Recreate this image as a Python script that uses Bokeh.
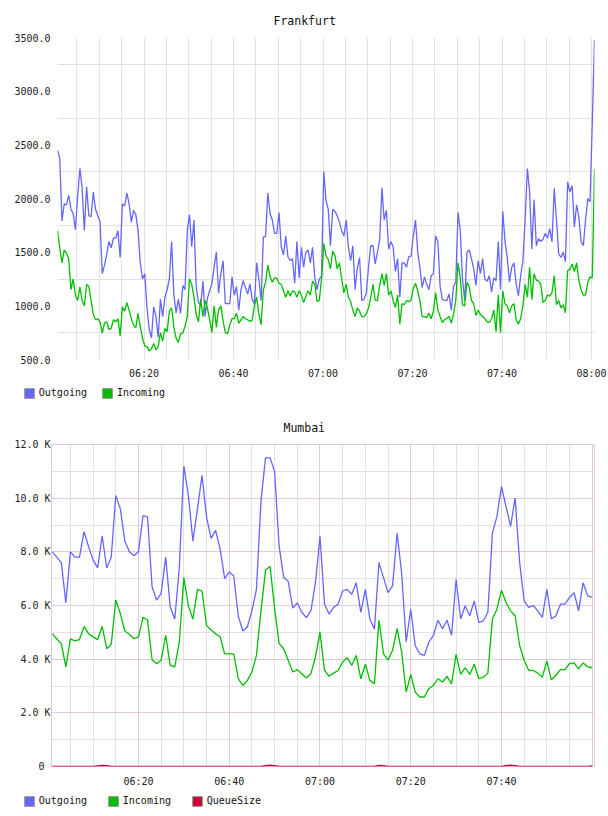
import pandas as pd
from bokeh.embed import file_html
from bokeh.layouts import column
from bokeh.models import (DatetimeTickFormatter, FixedTicker, Grid, Legend,
                          LegendItem, PrintfTickFormatter, Range1d)
from bokeh.plotting import figure
from bokeh.resources import INLINE

DAY = "2024-03-12"
FONT = "DejaVu Sans Mono"
BLUE = "#6666ff"
GREEN = "#00bf00"
RED = "#cc0033"
GRID = "#e2e2e2"
GRID_MAJOR = "#e3c8e3"

# ---- Frankfurt: 30-second samples from 06:00:40 ----
fra_outgoing = [
    2450, 2380, 1790, 1950, 1940, 2030, 1900, 1860, 1710, 2020,
    2280, 2100, 1700, 2110, 1840, 1830, 2060, 1900, 1840, 1785,
    1300, 1380, 1480, 1600, 1540, 1630, 1630, 1700, 1450, 1950,
    1930, 2050, 1950, 1780, 1890, 1850, 1700, 1400, 1250, 1300,
    980, 780, 700, 990, 900, 705, 1060, 900, 1080, 1150,
    1250, 1600, 1100, 935, 1060, 930, 1190, 1150, 1700, 1850,
    1550, 1800, 1170, 1030, 1005, 1230, 900, 1070, 1140, 1205,
    1360, 1500, 1120, 1300, 1420, 1020, 1020, 1020, 1270, 1100,
    1180, 960, 1150, 1235, 1170, 1110, 1205, 1060, 1020, 1400,
    1250, 1050, 1640, 1650, 2050, 1860, 1800, 1675, 1675, 1870,
    1550, 1475, 1650, 1455, 1420, 1440, 1210, 1600, 1260, 1545,
    1360, 1500, 1520, 1400, 1545, 1260, 1150, 1250, 1280, 2250,
    1980, 1900, 1560, 1900, 1880, 1840, 1780, 1700, 1650, 1800,
    1550, 1420, 1560, 1150, 1350, 1450, 1050, 1060, 1120, 1360,
    1560, 1560, 1390, 1500, 1620, 2100, 1800, 1890, 1530, 1600,
    1550, 1320, 1440, 1080, 1400, 1400, 1360, 1460, 1460, 1650,
    1800, 1500, 1350, 1170, 1270, 1200, 1150, 1280, 1300, 1650,
    1600, 1180, 1060, 1050, 1050, 1110, 960, 1180, 1220, 1870,
    1700, 1250, 1050, 1500, 1520, 1440, 1350, 1190, 1420, 1300,
    1440, 1250, 1230, 1280, 1130, 1260, 1235, 1600, 1150, 1880,
    1600, 1450, 1220, 1360, 1400, 1200, 1095, 1280, 1420, 1800,
    2280, 2060, 1530, 1990, 1560, 1625, 1600, 1620, 1675, 1630,
    1720, 1595, 2095, 1800, 1485, 1450, 1500, 1410, 2155, 2060,
    2120, 1735, 1940, 1830, 1600, 1560, 1800, 2000, 1970, 2700,
    3480,
]
fra_incoming = [
    1700, 1540, 1400, 1520, 1490, 1440, 1150, 1250, 1100, 1050,
    1175, 1050, 1000, 1200, 1180, 1050, 920, 870, 880, 850,
    745, 840, 850, 780, 790, 870, 850, 880, 720, 990,
    950, 1030, 960, 880, 820, 795, 930, 800, 700, 625,
    620, 580, 600, 650, 590, 620, 750, 670, 790, 760,
    950, 980, 800, 700, 660, 740, 745, 810, 900, 1250,
    1200, 1080, 920, 850, 1060, 900, 1050, 980, 870, 750,
    1000, 800, 960, 1000, 860, 750, 740, 820, 880, 880,
    930, 840, 870, 900, 880, 870, 855, 865, 1000, 1080,
    920, 825, 1150, 1220, 1380, 1270, 1220, 1260, 1260, 1210,
    1200, 1140, 1080, 1140, 1090, 1140, 1130, 1080, 1140, 1100,
    1030, 1090, 1140, 1100, 1230, 1200, 1040, 1050, 1250, 1580,
    1470, 1430, 1345, 1510, 1470, 1345, 1400, 1250, 1120, 1200,
    1080, 1040, 960, 900, 980, 950, 900, 900, 925, 980,
    1080, 1200, 1050, 1050, 1190, 1300, 1190, 1300, 1100, 1140,
    1050, 985, 1100, 830, 1020, 1010, 1050, 1040, 1050, 1160,
    1210, 1140, 1040, 900, 900, 890, 930, 880, 950, 1120,
    960, 900, 845, 870, 885, 900, 840, 920, 1050, 1400,
    1260, 1010, 1000, 1220, 1180, 1050, 1020, 910, 960, 920,
    900, 880, 850, 845, 880, 960, 760, 1100, 750, 1140,
    1020, 1000, 935, 1000, 1020, 870, 830, 880, 1000, 1200,
    1080, 1360, 1060, 1300, 1240, 1230, 1200, 1030, 1050, 1100,
    1090, 1120, 1280, 1010, 1050, 980, 1010, 935, 1330, 1340,
    1390, 1320, 1400, 1240, 1150, 1100, 1100, 1220, 1270, 1260,
    2270,
]
fra_x_labels = ["06:20", "06:40", "07:00", "07:20", "07:40", "08:00"]
fra_y_labels = [500, 1000, 1500, 2000, 2500, 3000, 3500]
fra_y_grid = [750, 1250, 1750, 2250, 2750, 3250]

# ---- Mumbai: one sample per minute from 06:01 ----
mum_outgoing = [
    8000, 7800, 7600, 6100, 8000, 7800, 7800, 8750, 8200, 7700,
    7400, 8600, 7400, 7800, 10100, 9600, 8400, 8000, 7850, 8000,
    9350, 9300, 6700, 6200, 6450, 7800, 5950, 5500, 7400, 11200,
    10100, 8400, 9600, 10850, 9300, 8500, 8800, 8100, 7000, 7250,
    7100, 5600, 5050, 5200, 5800, 6600, 9900, 11500, 11500, 11000,
    8200, 7050, 6900, 5900, 6100, 5750, 5550, 5800, 6850, 8580,
    6050, 5680, 5930, 6050, 6540, 6600, 6420, 6850, 5740, 6600,
    5500, 5120, 7600, 7040, 6480, 6730, 8700, 7200, 4640, 5860,
    4500, 4200, 4140, 4640, 4890, 5450, 5140, 5450, 4890, 6980,
    5500, 5990, 5620, 6170, 5370, 5430, 5740, 8700, 9320, 10430,
    9690, 8950, 10000, 7600, 6170, 5930, 6000, 5800, 5560, 6600,
    5500, 5620, 6050, 6050, 6300, 6480, 5800, 6850, 6360, 6300,
]
mum_incoming = [
    4950, 4750, 4580, 3710, 4760, 4680, 4730, 5220, 4950, 4830,
    4730, 5220, 4390, 4550, 6200, 5700, 5050, 4930, 4760, 4830,
    5560, 5460, 3980, 3830, 3960, 4890, 3770, 3710, 4640, 7040,
    5990, 5490, 6600, 6540, 5250, 5100, 4950, 4830, 4200, 4200,
    4200, 3270, 3020, 3210, 3520, 4140, 5800, 7320, 7450, 5900,
    4580, 4390, 3960, 3520, 3610, 3460, 3300, 3460, 4080, 5010,
    3580, 3360, 3480, 3580, 3890, 4050, 3770, 4140, 3270, 3810,
    3210, 3080, 5450, 4200, 3960, 4330, 5140, 4270, 2770, 3430,
    2770, 2590, 2590, 2900, 3020, 3270, 3150, 3360, 3080, 4180,
    3430, 3680, 3430, 3810, 3270, 3330, 3480, 5500, 5860, 6570,
    6110, 5800, 5620, 4510, 3960, 3580, 3580, 3480, 3330, 3930,
    3230, 3400, 3610, 3610, 3830, 3860, 3640, 3860, 3710, 3680,
]
mum_queue = [
    0, 0, 0, 0, 0, 0, 0, 0, 0, 0,
    20, 40, 30, 0, 0, 0, 0, 0, 0, 0,
    0, 0, 0, 0, 0, 0, 0, 0, 0, 0,
    0, 0, 0, 0, 0, 0, 0, 0, 0, 0,
    0, 0, 0, 0, 0, 0, 0, 30, 50, 30,
    0, 0, 0, 0, 0, 0, 0, 0, 0, 0,
    0, 0, 0, 0, 0, 0, 0, 0, 0, 0,
    0, 0, 40, 30, 0, 0, 0, 0, 0, 0,
    0, 0, 0, 0, 0, 0, 0, 0, 0, 0,
    0, 0, 0, 0, 0, 0, 0, 0, 0, 0,
    30, 50, 30, 0, 0, 0, 0, 0, 0, 0,
    0, 0, 0, 0, 0, 0, 0, 0, 0, 20,
]
mum_x_labels = ["06:20", "06:40", "07:00", "07:20", "07:40"]
mum_y_labels = {0: "0\u00a0", 2000: "2.0 K", 4000: "4.0 K", 6000: "6.0 K",
                8000: "8.0 K", 10000: "10.0 K", 12000: "12.0 K"}

fra_time = pd.date_range(f"{DAY} 06:00:40", periods=len(fra_outgoing), freq="30s")
mum_time = pd.date_range(f"{DAY} 06:01", periods=len(mum_outgoing), freq="1min")


def ms(hm):
    return pd.Timestamp(f"{DAY} {hm}").value // 10**6


five_min = [ms(t.strftime("%H:%M")) for t in
            pd.date_range(f"{DAY} 06:05", f"{DAY} 08:00", freq="5min")]
twenty_min = [ms(t.strftime("%H:%M")) for t in
              pd.date_range(f"{DAY} 06:00", f"{DAY} 08:00", freq="20min")]

HM = "%H:%M"
time_fmt = DatetimeTickFormatter(seconds=HM, minsec=HM, minutes=HM,
                                 hourmin=HM, hours=HM)


def style(p, title_offset):
    p.frame_align = False
    p.background_fill_color = "white"
    p.border_fill_color = "white"
    p.title.text_font = FONT
    p.title.text_font_size = "11.5px"
    p.title.text_font_style = "normal"
    p.title.text_color = "#111111"
    p.title.align = "left"
    p.title.offset = title_offset
    p.title.standoff = 20
    for ax in (p.xaxis[0], p.yaxis[0]):
        ax.axis_line_color = None
        ax.major_tick_line_color = None
        ax.minor_tick_line_color = None
        ax.major_tick_out = 0
        ax.major_tick_in = 0
        ax.minor_tick_out = 0
        ax.minor_tick_in = 0
        ax.major_label_text_font = FONT
        ax.major_label_text_font_size = "10px"
        ax.major_label_text_color = "#222222"
    p.xaxis.formatter = time_fmt


def legend_strip(names, colors, height=26):
    """A thin, axis-less figure that only carries a horizontal legend."""
    f = figure(width=608, height=height, x_range=Range1d(0, 1),
               y_range=Range1d(0, 1), x_axis_type=None, y_axis_type=None,
               min_border=0, min_border_left=0, min_border_right=0,
               min_border_top=0, min_border_bottom=0,
               output_backend="svg", toolbar_location=None)
    f.frame_align = False
    f.outline_line_color = None
    f.grid.visible = False
    f.background_fill_color = "white"
    f.border_fill_color = "white"
    items = []
    for name, color in zip(names, colors):
        # legend proxy: a single box kept outside the strip's visible range
        swatch = f.quad(left=[-3], right=[-2], top=[-2], bottom=[-3],
                        fill_color=color, line_color="#8c8c8c", line_width=1)
        items.append(LegendItem(label=name, renderers=[swatch]))
    widest = max(len(n) for n in names) * 6
    legend = Legend(items=items, orientation="horizontal",
                    location=(22.8, height - 4.5 - 12),
                    glyph_width=12, glyph_height=12, label_standoff=4,
                    spacing=14, padding=0, margin=0,
                    label_width=widest, label_height=12,
                    label_text_font=FONT, label_text_font_size="10px",
                    label_text_color="#111111", border_line_color=None,
                    background_fill_alpha=0)
    f.add_layout(legend)
    return f


# ---- Frankfurt panel ----
fra = figure(width=608, height=382, x_axis_type="datetime",
             x_range=Range1d(fra_time[0], fra_time[-1]),
             y_range=Range1d(500, 3500),
             min_border_left=57, min_border_right=14,
             min_border_top=37, min_border_bottom=23,
             title="Frankfurt", output_backend="svg", toolbar_location=None)
style(fra, 216)
fra.outline_line_color = None
fra.xaxis.ticker = FixedTicker(ticks=[ms(t) for t in fra_x_labels])
fra.xaxis.major_label_standoff = 8
fra.yaxis.ticker = FixedTicker(ticks=fra_y_labels)
fra.yaxis.formatter = PrintfTickFormatter(format="%.1f")
fra.yaxis.major_label_standoff = 7
fra.xgrid.ticker = FixedTicker(ticks=five_min)
fra.ygrid.ticker = FixedTicker(ticks=fra_y_grid)
for g in (fra.xgrid[0], fra.ygrid[0]):
    g.grid_line_color = GRID
    g.grid_line_width = 1

fra.line(fra_time, fra_outgoing, line_color=BLUE, line_width=1.3)
fra.line(fra_time, fra_incoming, line_color=GREEN, line_width=1.3)
fra_legend = legend_strip(["Outgoing", "Incoming"], [BLUE, GREEN])

# ---- Mumbai panel ----
mum = figure(width=608, height=382, x_axis_type="datetime",
             x_range=Range1d(pd.Timestamp(f"{DAY} 06:00:50"),
                             pd.Timestamp(f"{DAY} 08:00:30")),
             y_range=Range1d(0, 12000),
             min_border_left=51, min_border_right=14,
             min_border_top=36, min_border_bottom=24,
             title="Mumbai", output_backend="svg", toolbar_location=None)
style(mum, 232)
mum.outline_line_color = GRID_MAJOR
mum.outline_line_width = 1
mum.xaxis.ticker = FixedTicker(ticks=[ms(t) for t in mum_x_labels])
mum.xaxis.major_label_standoff = 9
mum.yaxis.ticker = FixedTicker(ticks=list(mum_y_labels))
mum.yaxis.major_label_overrides = mum_y_labels
mum.yaxis.major_label_standoff = 1

mum.xgrid.ticker = FixedTicker(ticks=[t for t in five_min if t not in twenty_min])
mum.ygrid.ticker = FixedTicker(ticks=list(range(1000, 12000, 2000)))
for g in (mum.xgrid[0], mum.ygrid[0]):
    g.grid_line_color = GRID
mum.add_layout(Grid(dimension=0, ticker=FixedTicker(ticks=twenty_min),
                    grid_line_color=GRID_MAJOR))
mum.add_layout(Grid(dimension=1, ticker=FixedTicker(ticks=list(range(2000, 12001, 2000))),
                    grid_line_color=GRID_MAJOR))

mum.line(mum_time, mum_outgoing, line_color=BLUE, line_width=1.3)
mum.line(mum_time, mum_incoming, line_color=GREEN, line_width=1.3)
mum.line(mum_time, mum_queue, line_color=RED, line_width=1.5)
mum_legend = legend_strip(["Outgoing", "Incoming", "QueueSize"], [BLUE, GREEN, RED])

page = column(fra, fra_legend, mum, mum_legend, spacing=0)
open("out.html", "w").write(file_html(page, INLINE, title="Traffic"))
